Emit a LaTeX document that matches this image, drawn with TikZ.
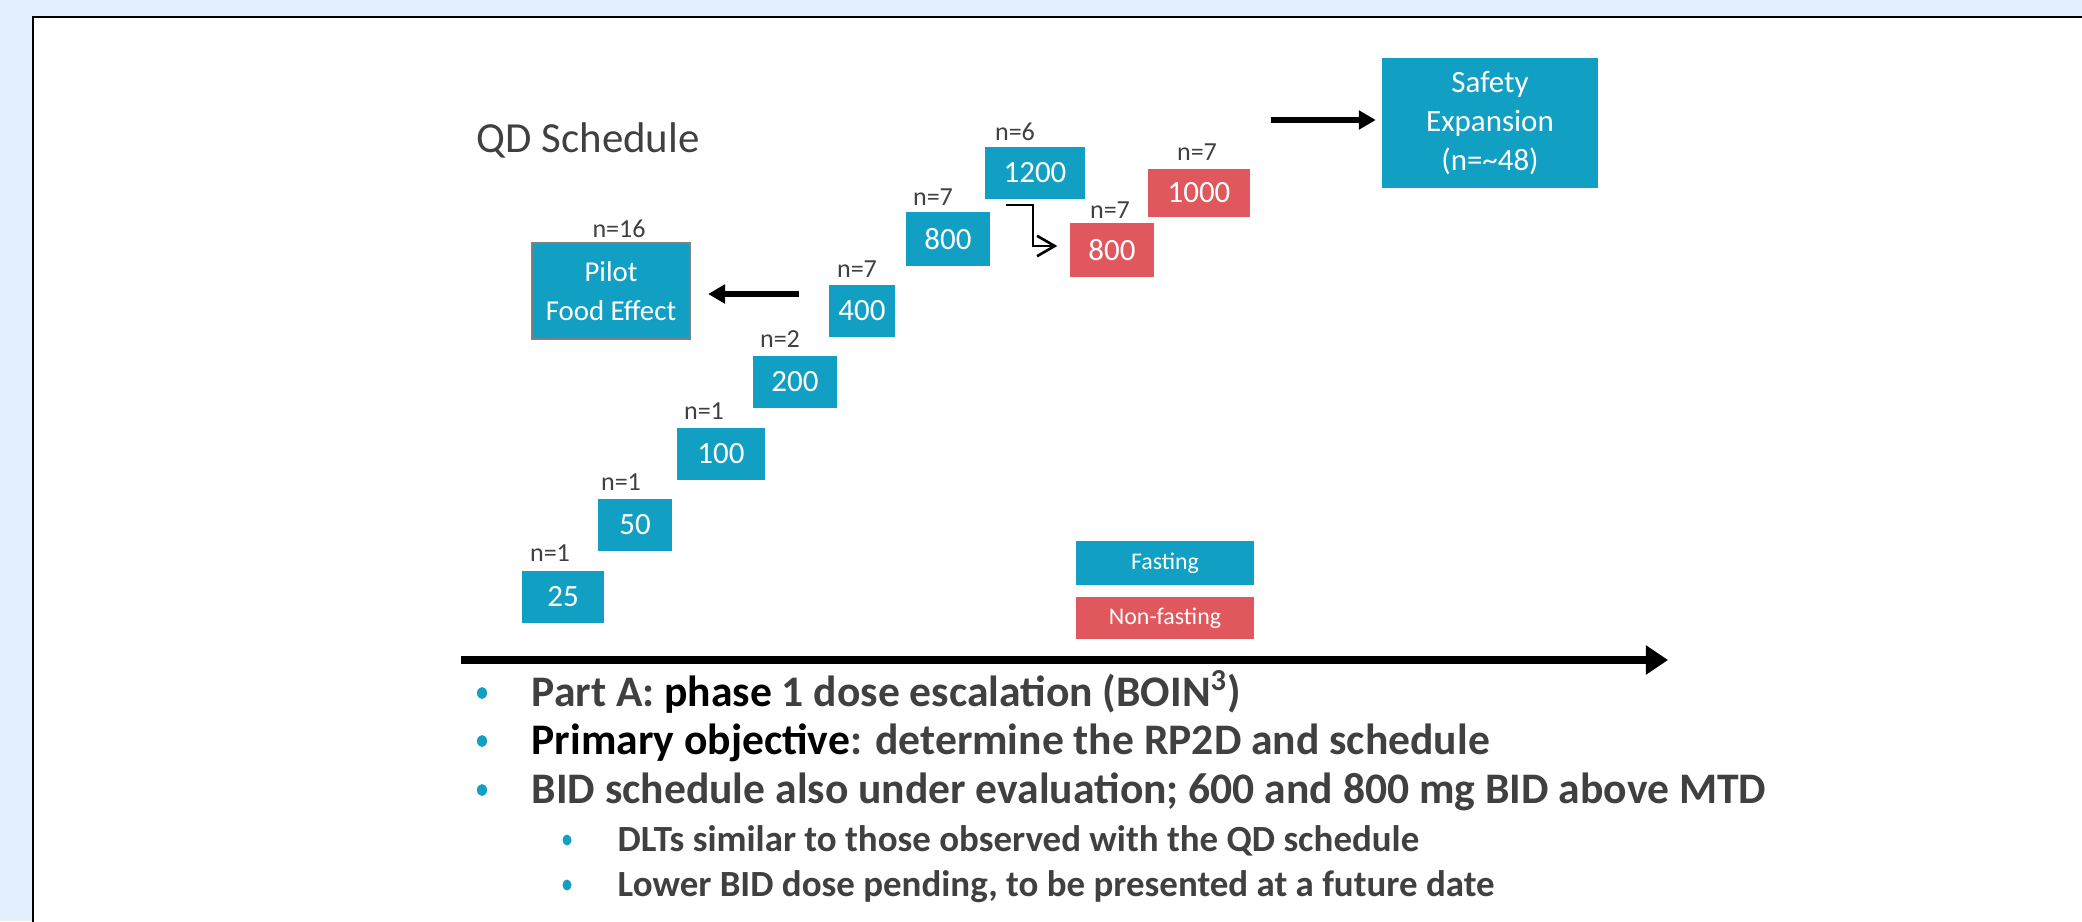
\documentclass[tikz,border=0pt]{standalone}
\usepackage{fontspec}
\setmainfont{Carlito}
\usetikzlibrary{arrows.meta, shapes.geometric}
\definecolor{fastblue}{HTML}{129FC4}
\definecolor{fedred}{HTML}{E0585D}
\definecolor{txtgray}{HTML}{404040}
\definecolor{pagebg}{HTML}{E3EFFC}

\begin{document}
\begin{tikzpicture}[x=0.01cm, y=-0.01cm]
\tikzset{dosebox/.style={fill=fastblue, text=white, inner sep=0pt, font=\fontsize{8.8}{10}\selectfont},
  fedbox/.style={dosebox, fill=fedred},
  nlabel/.style={text=txtgray, inner sep=0pt, font=\fontsize{7.4}{9}\selectfont},
  fatarrow/.style={line width=1.7pt, -{Triangle[length=4.8pt, width=5.2pt]}},
  bulletdot/.style={fill=fastblue, ellipse, inner sep=0pt, minimum width=0.1cm, minimum height=0.12cm},
  bullettext/.style={text=txtgray, inner sep=0pt, font=\bfseries}}
\useasboundingbox (0,0) rectangle (2082,921);
\clip (0,0) rectangle (2082,921);
\fill[pagebg] (0,0) rectangle (2082,921);
\draw[line width=0.85pt, fill=white] (33,17) rectangle (2120,960);
% title
\node[text=txtgray, inner sep=0pt, anchor=base west, font=\fontsize{12.2}{14}\selectfont] (title) at (476,152) {QD Schedule};
% QD dose steps
\node[dosebox, minimum width=0.82cm, minimum height=0.51cm] (D25) at (563,597) {25};
\node[dosebox, minimum width=0.74cm, minimum height=0.51cm] (D50) at (635,525) {50};
\node[dosebox, minimum width=0.88cm, minimum height=0.52cm] (D100) at (721,454) {100};
\node[dosebox, minimum width=0.84cm, minimum height=0.51cm] (D200) at (795,382) {200};
\node[dosebox, minimum width=0.66cm, minimum height=0.52cm] (D400) at (862,311) {400};
\node[dosebox, minimum width=0.84cm, minimum height=0.53cm] (D800) at (948,239) {800};
\node[dosebox, minimum width=0.99cm, minimum height=0.52cm] (D1200) at (1035,173) {1200};
\node[fedbox, minimum width=0.84cm, minimum height=0.53cm] (R800) at (1112,250) {800};
\node[fedbox, minimum width=1.02cm, minimum height=0.47cm] (R1000) at (1199,193) {1000};
\node[nlabel] (n25) at (550,553) {n=1};
\node[nlabel] (n50) at (621,482) {n=1};
\node[nlabel] (n100) at (704,411) {n=1};
\node[nlabel] (n200) at (780,339) {n=2};
\node[nlabel] (n400) at (857,269) {n=7};
\node[nlabel] (n800) at (933,197) {n=7};
\node[nlabel] (n1200) at (1015,132) {n=6};
\node[nlabel] (nR800) at (1110,210) {n=7};
\node[nlabel] (nR1000) at (1197,152) {n=7};
% side cohorts
\node[dosebox, draw=gray, line width=0.6pt, minimum width=1.58cm, minimum height=0.96cm, align=center,
  font=\fontsize{8.2}{11.1}\selectfont] (Pilot) at (611,291) {Pilot\\Food Effect};
\node[nlabel] (nPilot) at (619,229) {n=16};
\node[dosebox, minimum width=2.15cm, minimum height=1.30cm, align=center,
  font=\fontsize{8.8}{11}\selectfont] (Safety) at (1490,123) {Safety\\Expansion\\(n=\textasciitilde48)};
% legend
\node[dosebox, minimum width=1.77cm, minimum height=0.43cm, font=\fontsize{6.8}{8}\selectfont] (Fast) at (1165,563) {Fasting};
\node[fedbox, minimum width=1.77cm, minimum height=0.42cm, font=\fontsize{6.8}{8}\selectfont] (NonFast) at (1165,618) {Non-fasting};
% arrows
\coordinate (pa) at (799,294);
\coordinate (sa) at (1271,120);
\coordinate (e1) at (1006,205);
\coordinate (e2) at (1033,246);
\draw[fatarrow, shorten >=0.17cm] (pa) -- (Pilot.east |- pa);
\draw[fatarrow, shorten >=0.06cm] (sa) -- (Safety.west |- sa);
\draw[line width=0.75pt, -{Straight Barb[length=5pt, width=5.8pt]}, shorten >=0.12cm] (e1) -| (e2) -- (e2 -| R800.west);
% time axis
\coordinate (ax1) at (461,660);
\coordinate (ax2) at (1668,660);
\draw[line width=2.3pt, -{Triangle[length=6.3pt, width=8pt]}] (ax1) -- (ax2);
% bullets
\node[bulletdot] (b1) at (482,693) {};
\node[bullettext, anchor=base west, font=\fontsize{12.4}{14}\selectfont\bfseries] (t1) at (531,706) {Part A: \textcolor{black}{phase} 1 dose escalation (BOIN\textsuperscript{3})};
\node[bulletdot] (b2) at (482,741) {};
\node[bullettext, anchor=base west, font=\fontsize{12.4}{14}\selectfont\bfseries] (t2) at (531,754) {\textcolor{black}{Primary objective}: determine the RP2D and schedule};
\node[bulletdot] (b3) at (482,790) {};
\node[bullettext, anchor=base west, font=\fontsize{12.4}{14}\selectfont\bfseries] (t3) at (531,803) {BID schedule also under evaluation; 600 and 800 mg BID above MTD};
\node[bulletdot, minimum width=0.09cm, minimum height=0.11cm] (b4) at (567,840) {};
\node[bullettext, anchor=base west, font=\fontsize{10.5}{12}\selectfont\bfseries] (t4) at (617,851) {DLTs similar to those observed with the QD schedule};
\node[bulletdot, minimum width=0.09cm, minimum height=0.11cm] (b5) at (567,885) {};
\node[bullettext, anchor=base west, font=\fontsize{10.5}{12}\selectfont\bfseries] (t5) at (617,896) {Lower BID dose pending, to be presented at a future date};
\end{tikzpicture}
\end{document}
